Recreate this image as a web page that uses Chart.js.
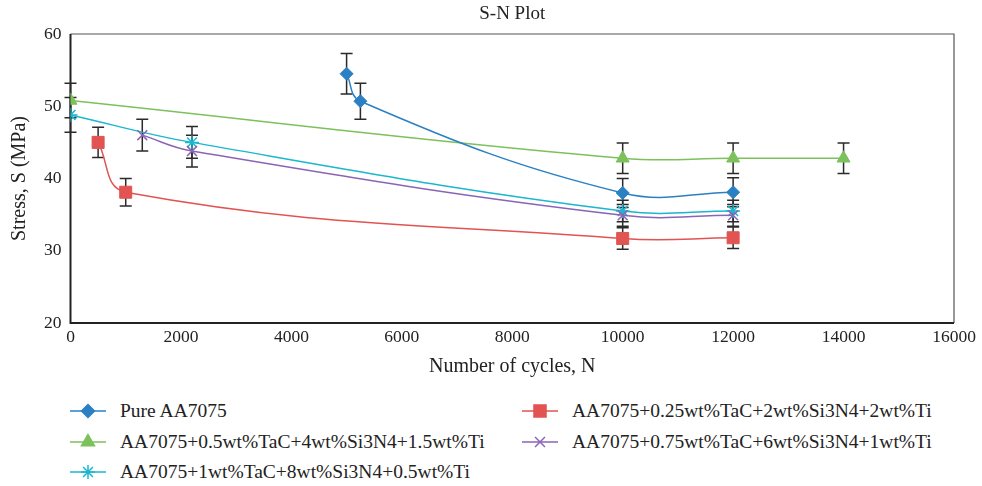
<!DOCTYPE html>
<html>
<head>
<meta charset="utf-8">
<script src="https://cdn.jsdelivr.net/npm/chart.js@4"></script>
<style>
  body { margin: 0; background: #fff; font-family: "Liberation Serif", "DejaVu Serif", serif; }
  #wrap { position: relative; width: 982px; height: 486px; }
  #snChart { position: absolute; left: 0; top: 0; }
  .leg { position: absolute; display: flex; align-items: center; font-size: 19.5px; color: #222; white-space: nowrap; }
  .leg canvas { margin-right: 14px; }
</style>
</head>
<body>
<div id="wrap">
  <canvas id="snChart" width="982" height="390"></canvas>
  <div id="legend"></div>
</div>
<script>
// tick labels
const xTicks = [0, 2000, 4000, 6000, 8000, 10000, 12000, 14000, 16000];
const yTicks = [20, 30, 40, 50, 60];

// series names
const names = [
    'Pure AA7075',
    'AA7075+0.25wt%TaC+2wt%Si3N4+2wt%Ti',
    'AA7075+0.5wt%TaC+4wt%Si3N4+1.5wt%Ti',
    'AA7075+0.75wt%TaC+6wt%Si3N4+1wt%Ti',
    'AA7075+1wt%TaC+8wt%Si3N4+0.5wt%Ti'
];

// cycles (N), stress (MPa) and error for each series
const pureN = [5000, 5250, 10000, 12000];
const pureS = [54.5, 50.7, 38.0, 38.1];
const pureErr = [2.8, 2.5, 2.0, 2.0];

const tac025N = [500, 1000, 10000, 12000];
const tac025S = [45.0, 38.1, 31.7, 31.8];
const tac025Err = [2.1, 1.9, 1.5, 1.5];

const tac05N = [0, 10000, 12000, 14000];
const tac05S = [50.8, 42.8, 42.8, 42.8];
const tac05Err = [2.4, 2.1, 2.1, 2.1];

const tac075N = [1300, 2200, 10000, 12000];
const tac075S = [46.0, 43.8, 34.9, 34.9];
const tac075Err = [2.2, 2.2, 1.5, 1.5];

const tac1N = [0, 2200, 10000, 12000];
const tac1S = [48.8, 45.0, 35.5, 35.5];
const tac1Err = [2.4, 2.2, 1.5, 1.5];

function pts(xs, ys) {
    return xs.map((x, i) => ({ x: x, y: ys[i] }));
}

const styles = [
    { color: '#2B80C4', point: 'rectRot', radius: 6.5 },
    { color: '#E15452', point: 'rect', radius: 8.5 },
    { color: '#7CC15C', point: 'triangle', radius: 7.5 },
    { color: '#8A65B6', point: 'crossRot', radius: 7 },
    { color: '#1BB7CE', point: 'star', radius: 7 }
];
const seriesN = [pureN, tac025N, tac05N, tac075N, tac1N];
const seriesS = [pureS, tac025S, tac05S, tac075S, tac1S];
const seriesErr = [pureErr, tac025Err, tac05Err, tac075Err, tac1Err];

const datasets = names.map((name, i) => ({
    label: name,
    data: pts(seriesN[i], seriesS[i]),
    errors: seriesErr[i],
    showLine: true,
    tension: 0.4,
    borderColor: styles[i].color,
    backgroundColor: styles[i].color,
    borderWidth: 1.5,
    pointStyle: styles[i].point,
    pointRadius: styles[i].radius,
    pointHoverRadius: styles[i].radius,
    pointBorderWidth: (styles[i].point === 'crossRot' || styles[i].point === 'star') ? 1.5 : 1,
    pointBorderColor: styles[i].color,
    pointBackgroundColor: styles[i].color
}));

// vertical error bars drawn through the scales
const errorBars = {
    id: 'errorBars',
    beforeDatasetsDraw(chart) {
        const ctx = chart.ctx;
        const xs = chart.scales.x, ys = chart.scales.y;
        ctx.save();
        ctx.strokeStyle = '#2a2a2a';
        ctx.lineWidth = 1.5;
        chart.data.datasets.forEach(ds => {
            ds.data.forEach((p, j) => {
                const e = ds.errors[j];
                const px = xs.getPixelForValue(p.x);
                const top = ys.getPixelForValue(p.y + e);
                const bot = ys.getPixelForValue(p.y - e);
                ctx.beginPath();
                ctx.moveTo(px, top); ctx.lineTo(px, bot);
                ctx.moveTo(px - 6, top); ctx.lineTo(px + 6, top);
                ctx.moveTo(px - 6, bot); ctx.lineTo(px + 6, bot);
                ctx.stroke();
            });
        });
        ctx.restore();
    }
};

// plot frame: thin top/right, heavier left/bottom
const frame = {
    id: 'frame',
    beforeDatasetsDraw(chart) {
        const a = chart.chartArea, ctx = chart.ctx;
        ctx.save();
        ctx.strokeStyle = '#555';
        ctx.lineWidth = 1.2;
        ctx.beginPath();
        ctx.moveTo(a.left, a.top); ctx.lineTo(a.right, a.top); ctx.lineTo(a.right, a.bottom);
        ctx.stroke();
        ctx.strokeStyle = '#222';
        ctx.lineWidth = 2;
        ctx.beginPath();
        ctx.moveTo(a.left, a.top); ctx.lineTo(a.left, a.bottom); ctx.lineTo(a.right, a.bottom);
        ctx.stroke();
        ctx.restore();
    }
};

const serif = "'Liberation Serif', 'DejaVu Serif', serif";
const tickFont = { family: serif, size: 17.5 };
const titleFont = { family: serif, size: 20 };

const chart = new Chart(document.getElementById('snChart'), {
    type: 'scatter',
    data: { datasets: datasets },
    plugins: [frame, errorBars],
    options: {
        responsive: false,
        animation: false,
        layout: { padding: { top: 0, right: 28, left: 0, bottom: 0 } },
        plugins: {
            legend: { display: false },
            tooltip: { enabled: false },
            title: {
                display: true,
                text: 'S-N Plot',
                color: '#222',
                fullSize: false,
                font: { family: serif, size: 19, weight: 'normal', lineHeight: 1.2 },
                padding: { top: 3, bottom: 8.2 }
            }
        },
        scales: {
            x: {
                type: 'linear',
                min: 0,
                max: 16000,
                afterBuildTicks: s => { s.ticks = xTicks.map(v => ({ value: v })); },
                afterFit: s => { s.height = 67; },
                grid: { display: false, drawTicks: false },
                border: { display: false },
                ticks: { color: '#222', font: tickFont, padding: 4, maxRotation: 0, callback: v => String(v) },
                title: { display: true, text: 'Number of cycles, N', color: '#222', font: titleFont, padding: { top: 0, bottom: 11 } }
            },
            y: {
                min: 20,
                max: 60,
                afterBuildTicks: s => { s.ticks = yTicks.map(v => ({ value: v })); },
                afterFit: s => { s.width = 70.5; },
                grid: { display: false, drawTicks: false },
                border: { display: false },
                ticks: { color: '#222', font: tickFont, padding: 9, callback: v => String(v) },
                title: { display: true, text: 'Stress, S (MPa)', color: '#222', font: titleFont, padding: { top: 8, bottom: 0 } }
            }
        }
    }
});

// HTML legend in two columns, markers drawn with Chart.js helpers
const legendPos = [
    { left: 70, top: 411 }, { left: 522, top: 411 },
    { left: 70, top: 442 }, { left: 522, top: 442 },
    { left: 70, top: 472 }
];
const legendEl = document.getElementById('legend');
names.forEach((name, i) => {
    const item = document.createElement('div');
    item.className = 'leg';
    item.style.left = legendPos[i].left + 'px';
    item.style.top = (legendPos[i].top - 12) + 'px';
    item.style.height = '24px';
    const c = document.createElement('canvas');
    c.width = 36; c.height = 20;
    const ctx = c.getContext('2d');
    ctx.strokeStyle = styles[i].color;
    ctx.lineWidth = 1.5;
    ctx.beginPath(); ctx.moveTo(0, 10); ctx.lineTo(36, 10); ctx.stroke();
    ctx.fillStyle = styles[i].color;
    Chart.helpers.drawPoint(ctx, {
        pointStyle: styles[i].point,
        radius: styles[i].radius,
        rotation: 0,
        borderWidth: 1.5
    }, 18, 10);
    item.appendChild(c);
    const t = document.createElement('span');
    t.textContent = name;
    item.appendChild(t);
    legendEl.appendChild(item);
});
</script>
</body>
</html>
